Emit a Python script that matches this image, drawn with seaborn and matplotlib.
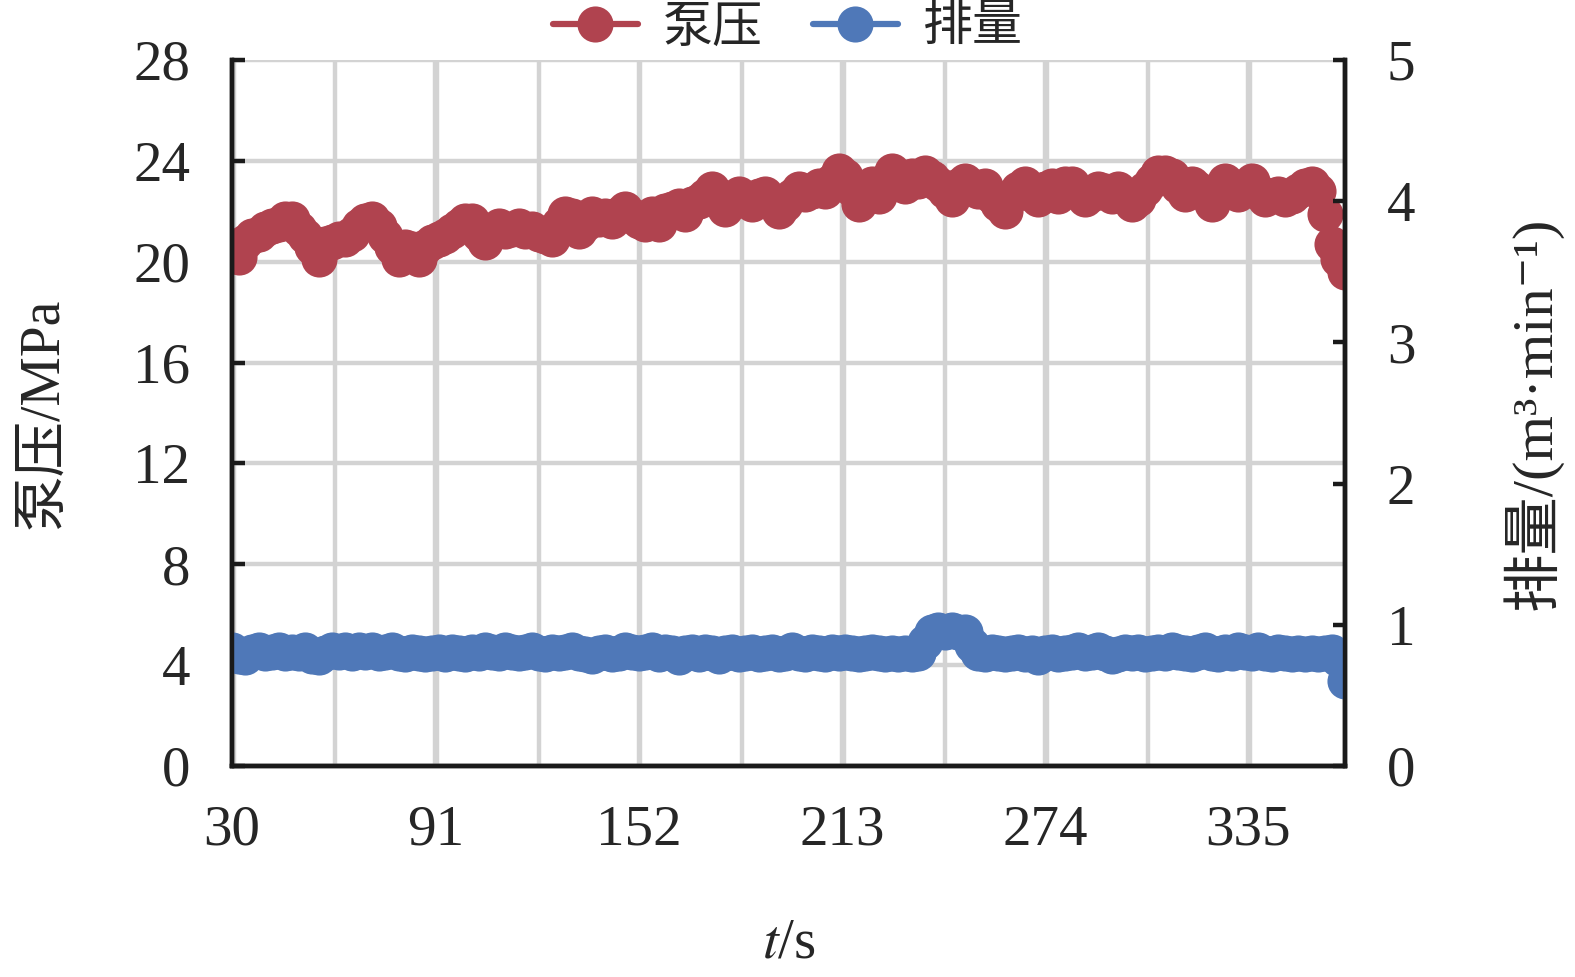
import matplotlib
matplotlib.use('Agg')
import matplotlib.pyplot as plt
from matplotlib.ticker import MultipleLocator, FixedLocator
import numpy as np
import pandas as pd
import seaborn as sns

# time axis (s), one sample every 2 s
t = np.arange(30, 365, 2)

# pump pressure (MPa)
pressure = [
    20.6, 20.2, 20.8, 21.0, 21.1, 21.3, 21.4, 21.5, 21.7, 21.7,
    21.3, 21.0, 20.6, 20.1, 20.7, 20.8, 20.9, 20.9, 21.1, 21.4,
    21.6, 21.7, 21.4, 21.0, 20.6, 20.1, 20.6, 20.5, 20.1, 20.6,
    20.8, 20.9, 21.0, 21.2, 21.4, 21.6, 21.6, 21.1, 20.8, 21.2,
    21.4, 21.2, 21.3, 21.4, 21.2, 21.3, 21.1, 21.0, 20.9, 21.5,
    21.9, 21.8, 21.2, 21.5, 21.9, 21.7, 21.8, 21.6, 21.9, 22.1,
    21.8, 21.6, 21.5, 21.9, 21.5, 22.0, 22.1, 22.2, 21.9, 22.3,
    22.4, 22.6, 22.9, 22.6, 22.1, 22.4, 22.7, 22.5, 22.3, 22.6,
    22.7, 22.4, 22.0, 22.3, 22.6, 22.9, 22.7, 22.8, 23.0, 22.8,
    23.2, 23.6, 23.4, 22.9, 22.3, 22.8, 23.1, 22.6, 23.2, 23.6,
    23.2, 23.0, 23.4, 23.2, 23.5, 23.3, 23.1, 22.8, 22.5, 23.0,
    23.2, 23.0, 22.8, 23.0, 22.6, 22.3, 22.0, 22.6, 22.9, 23.1,
    22.7, 22.5, 22.9, 23.0, 22.6, 23.1, 23.1, 22.8, 22.5, 22.7,
    22.9, 22.8, 22.6, 22.9, 22.6, 22.3, 22.5, 22.9, 23.2, 23.5,
    23.5, 23.4, 23.0, 22.7, 23.1, 22.9, 22.7, 22.3, 22.8, 23.2,
    23.0, 22.7, 22.9, 23.2, 22.8, 22.5, 22.6, 22.7, 22.5, 22.6,
    22.8, 23.0, 23.1, 22.8, 21.9, 20.7, 20.1, 19.6,
]

# flow rate (m3/min)
rate = [
    0.82, 0.78, 0.77, 0.81, 0.82, 0.80, 0.81, 0.82, 0.80, 0.81,
    0.80, 0.82, 0.78, 0.77, 0.80, 0.82, 0.81, 0.82, 0.80, 0.82,
    0.81, 0.82, 0.80, 0.81, 0.82, 0.80, 0.79, 0.81, 0.80, 0.79,
    0.80, 0.81, 0.79, 0.81, 0.80, 0.79, 0.81, 0.80, 0.82, 0.81,
    0.80, 0.82, 0.81, 0.80, 0.81, 0.82, 0.80, 0.79, 0.81, 0.80,
    0.81, 0.82, 0.80, 0.79, 0.78, 0.80, 0.81, 0.79, 0.80, 0.82,
    0.81, 0.80, 0.81, 0.82, 0.79, 0.81, 0.80, 0.77, 0.80, 0.81,
    0.79, 0.81, 0.80, 0.78, 0.80, 0.81, 0.79, 0.80, 0.81, 0.79,
    0.80, 0.81, 0.79, 0.80, 0.82, 0.80, 0.79, 0.81, 0.80, 0.79,
    0.81, 0.80, 0.81, 0.80, 0.79, 0.80, 0.81, 0.80, 0.79, 0.80,
    0.79, 0.80, 0.79, 0.80,
    0.88, 0.95, 0.96, 0.95, 0.96, 0.95, 0.95, 0.86,
    0.80, 0.79, 0.81, 0.80, 0.79, 0.80, 0.81, 0.79, 0.80, 0.77,
    0.80, 0.81, 0.79, 0.80, 0.81, 0.82, 0.80, 0.81, 0.82, 0.80,
    0.78, 0.79, 0.81, 0.80, 0.81, 0.79, 0.80, 0.81, 0.80, 0.82,
    0.81, 0.80, 0.79, 0.81, 0.82, 0.80, 0.79, 0.81, 0.80, 0.82,
    0.81, 0.80, 0.82, 0.80, 0.79, 0.81, 0.80, 0.79, 0.80, 0.79,
    0.80, 0.79,
    0.80, 0.81, 0.76, 0.60,
]

x_ticks = [30, 91, 152, 213, 274, 335]

df = pd.DataFrame({'t': t, 'pressure': pressure, 'rate': rate})

red = '#B0434F'
blue = '#4F78B8'

sns.set_theme(style='white')
plt.rcParams['font.family'] = ['Liberation Serif', 'DejaVu Serif', 'Noto Sans CJK SC']
plt.rcParams['mathtext.fontset'] = 'stix'

fig = plt.figure(figsize=(15.75, 9.77), dpi=100)
ax = fig.add_axes([0.1473, 0.216, 0.7067, 0.7226])
ax2 = ax.twinx()

sns.lineplot(data=df, x='t', y='pressure', ax=ax, color=red, lw=4.5,
             marker='o', markersize=26, markeredgewidth=0, label='泵压',
             legend=False)
sns.lineplot(data=df, x='t', y='rate', ax=ax2, color=blue, lw=4.5,
             marker='o', markersize=26, markeredgewidth=0, label='排量',
             legend=False)

ax.set_xlim(30, 364)
ax.set_ylim(0, 28)
ax2.set_ylim(0, 5)

ax.xaxis.set_major_locator(FixedLocator(x_ticks))
ax.xaxis.set_minor_locator(MultipleLocator(30.5))
ax.yaxis.set_major_locator(MultipleLocator(4))
ax2.yaxis.set_major_locator(MultipleLocator(1))

ax.grid(True, which='both', axis='x', color='#D3D3D3', lw=3.2)
ax.grid(True, which='major', axis='y', color='#D3D3D3', lw=3.2)
ax.set_axisbelow(True)

for a in (ax, ax2):
    for s in a.spines.values():
        s.set_color('#1a1a1a')
        s.set_linewidth(3.2)
    a.spines['top'].set_visible(False)

ax.tick_params(axis='x', which='both', length=0, pad=28, labelsize=41)
ax.tick_params(axis='y', direction='in', length=9, width=3.2,
               color='#1a1a1a', pad=30, labelsize=41)
ax2.tick_params(axis='y', direction='in', length=9, width=3.2,
                color='#1a1a1a', pad=30, labelsize=41)

ax.set_xlabel('$t$/s', fontsize=41, labelpad=44)
ax.set_ylabel('泵压/MPa', fontsize=40, labelpad=46)
ax2.set_ylabel('排量/(m³·min⁻¹)', fontsize=42, labelpad=62)

h1, l1 = ax.get_legend_handles_labels()
h2, l2 = ax2.get_legend_handles_labels()
fig.legend(h1 + h2, l1 + l2, loc='upper center', bbox_to_anchor=(0.5, 1.04),
           ncol=2, frameon=False, fontsize=36, handlelength=1.7,
           handletextpad=0.5, columnspacing=1.0)

fig.savefig('out.png', dpi=100)
